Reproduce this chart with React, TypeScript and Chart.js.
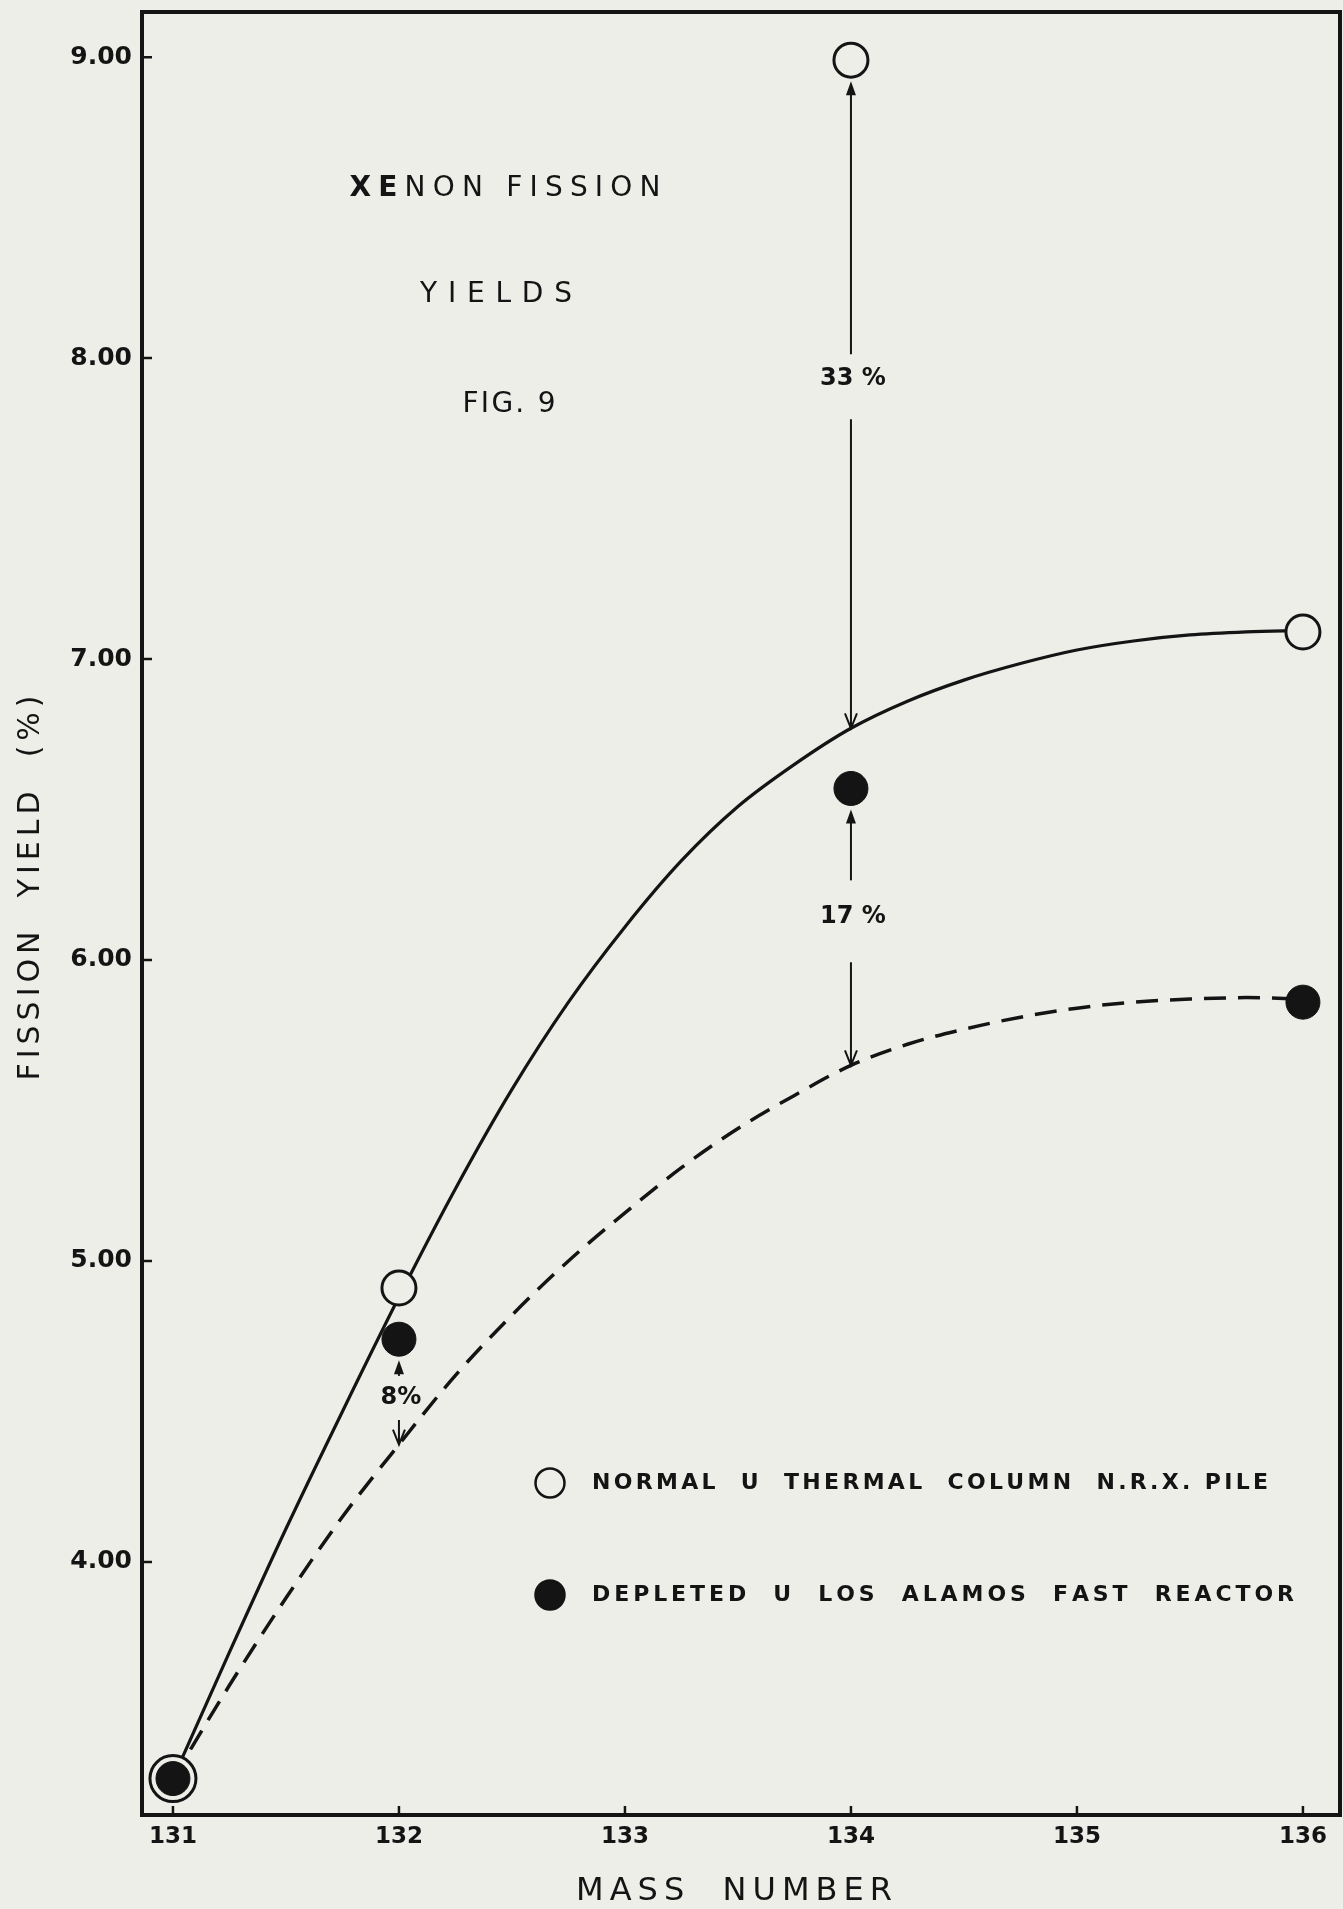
import React, { useEffect, useRef } from 'react';
import { Chart, registerables } from 'chart.js';

Chart.register(...registerables);

// ---------- data ----------
const MASS_NUMBERS = [131, 132, 134, 136];
const NORMAL_U_YIELDS = [3.28, 4.91, 8.99, 7.09];
const DEPLETED_U_YIELDS = [3.28, 4.74, 6.57, 5.86];

const CURVE_MASS = [131, 131.25, 131.5, 131.75, 132, 132.25, 132.5, 132.75, 133, 133.25, 133.5, 133.75, 134, 134.25, 134.5, 134.75, 135, 135.25, 135.5, 135.75, 136];
const NORMAL_CURVE = [3.28, 3.7, 4.11, 4.5, 4.88, 5.24, 5.57, 5.86, 6.11, 6.33, 6.51, 6.65, 6.77, 6.86, 6.93, 6.985, 7.03, 7.06, 7.08, 7.09, 7.095];
const DEPLETED_CURVE = [3.28, 3.59, 3.88, 4.15, 4.39, 4.62, 4.82, 5.0, 5.16, 5.31, 5.44, 5.55, 5.65, 5.72, 5.77, 5.81, 5.84, 5.86, 5.87, 5.875, 5.87];

const X_TICKS = [131, 132, 133, 134, 135, 136];
const Y_TICKS = [4, 5, 6, 7, 8, 9];

const NORMAL_LABEL = 'NORMAL  U  THERMAL  COLUMN  N.R.X. PILE';
const DEPLETED_LABEL = 'DEPLETED  U  LOS  ALAMOS  FAST  REACTOR';
const X_TITLE = 'MASS  NUMBER';
const Y_TITLE = 'FISSION  YIELD  (%)';

// percentage-difference annotations
const DIFF_MASS = [134, 134, 132];
const DIFF_LABELS = ['33 %', '17 %', '8%'];
const DIFF_LABEL_AT = [7.93, 6.145, 4.545];
const DIFF_TOP = [NORMAL_U_YIELDS[2], DEPLETED_U_YIELDS[2], DEPLETED_U_YIELDS[1]];
const DIFF_BOTTOM = [
  NORMAL_CURVE[CURVE_MASS.indexOf(134)],
  DEPLETED_CURVE[CURVE_MASS.indexOf(134)],
  DEPLETED_CURVE[CURVE_MASS.indexOf(132)],
];

// ---------- styles ----------
const W = 1343;
const H = 1909;
const PAPER = '#eeeee9';
const INK = '#141414';
const FAMILY = '"DejaVu Sans", "Liberation Sans", sans-serif';

function spacedText(ctx: CanvasRenderingContext2D, segments: [string, string][], x: number, y: number, width: number, align: 'center' | 'left') {
  const chars: [string, string][] = [];
  for (const [t, f] of segments) for (const ch of t) chars.push([ch, f]);
  let sum = 0;
  const ws = chars.map(([ch, f]) => { ctx.font = f; const w = ctx.measureText(ch).width; sum += w; return w; });
  const gap = chars.length > 1 ? (width - sum) / (chars.length - 1) : 0;
  let cx = align === 'center' ? x - width / 2 : x;
  ctx.textBaseline = 'middle';
  ctx.textAlign = 'left';
  chars.forEach(([ch, f], i) => { ctx.font = f; ctx.fillText(ch, cx, y); cx += ws[i] + gap; });
}

const decorPlugin = {
  id: 'decor',
  beforeDraw(chart: any) {
    const ctx = chart.ctx;
    ctx.save();
    ctx.fillStyle = PAPER;
    ctx.fillRect(0, 0, chart.width, chart.height);
    ctx.restore();
    const spacing: Record<string, string> = { x: '6px', y: '5px' };
    const shift: Record<string, [number, number]> = { x: [-4, 0], y: [0, -28] };
    for (const id of ['x', 'y']) {
      const s: any = chart.scales[id];
      if (s && !s.__spaced) {
        const orig = s.drawTitle.bind(s);
        s.drawTitle = (...args: any[]) => {
          const c: any = chart.ctx;
          c.save();
          if ('letterSpacing' in c) c.letterSpacing = spacing[id];
          c.translate(shift[id][0], shift[id][1]);
          orig(...args);
          c.restore();
        };
        s.__spaced = true;
      }
    }
  },
  afterDatasetsDraw(chart: any) {
    const ctx: CanvasRenderingContext2D = chart.ctx;
    const xs = chart.scales.x;
    const ys = chart.scales.y;
    ctx.save();
    ctx.strokeStyle = INK;
    ctx.fillStyle = INK;
    ctx.lineWidth = 2;
    const gapsTop = [25, 36, 22];
    const gapsBottom = [40, 46, 22];
    for (let i = 0; i < DIFF_MASS.length; i++) {
      const x = xs.getPixelForValue(DIFF_MASS[i]);
      const yTop = ys.getPixelForValue(DIFF_TOP[i]) + 21;
      const yBot = ys.getPixelForValue(DIFF_BOTTOM[i]);
      const yL = ys.getPixelForValue(DIFF_LABEL_AT[i]);
      ctx.beginPath();
      ctx.moveTo(x, yL - gapsTop[i]);
      ctx.lineTo(x, yTop + 8);
      ctx.stroke();
      ctx.beginPath();
      ctx.moveTo(x, yTop);
      ctx.lineTo(x - 5, yTop + 14);
      ctx.lineTo(x + 5, yTop + 14);
      ctx.closePath();
      ctx.fill();
      ctx.beginPath();
      ctx.moveTo(x, yL + gapsBottom[i]);
      ctx.lineTo(x, yBot);
      ctx.moveTo(x - 6, yBot - 15);
      ctx.lineTo(x, yBot);
      ctx.lineTo(x + 6, yBot - 15);
      ctx.stroke();
      ctx.font = `bold 24px ${FAMILY}`;
      ctx.textAlign = 'center';
      ctx.textBaseline = 'middle';
      ctx.fillText(DIFF_LABELS[i], x + 2, yL);
    }
    ctx.restore();
  },
  afterDraw(chart: any) {
    const ctx: CanvasRenderingContext2D = chart.ctx;
    const { left, right, top, bottom } = chart.chartArea;
    const xs = chart.scales.x;
    const ys = chart.scales.y;
    ctx.save();
    ctx.strokeStyle = INK;
    ctx.fillStyle = INK;
    ctx.lineWidth = 4;
    ctx.lineCap = 'square';
    ctx.beginPath();
    ctx.moveTo(left, top);
    ctx.lineTo(right, top);
    ctx.lineTo(right, bottom);
    ctx.stroke();
    ctx.lineWidth = 2.5;
    ctx.lineCap = 'butt';
    ctx.beginPath();
    for (const v of Y_TICKS) {
      const y = ys.getPixelForValue(v);
      ctx.moveTo(left, y);
      ctx.lineTo(left + 10, y);
    }
    for (const v of X_TICKS) {
      const x = xs.getPixelForValue(v);
      ctx.moveTo(x, bottom);
      ctx.lineTo(x, bottom - 9);
    }
    ctx.stroke();

    const reg = `28px ${FAMILY}`;
    const bold = `bold 28px ${FAMILY}`;
    spacedText(ctx, [['XE', bold], ['NON FISSION', reg]], left + 363, top + 177, 311, 'center');
    spacedText(ctx, [['YIELDS', reg]], left + 354, top + 283, 152, 'center');
    spacedText(ctx, [['FIG. 9', reg]], left + 367, top + 393, 93, 'center');

    const ds = chart.data.datasets;
    const legendRows = [
      { d: ds[1], y: top + 1471, w: 676 },
      { d: ds[0], y: top + 1583, w: 702 },
    ];
    for (const row of legendRows) {
      const cx = left + 408;
      ctx.beginPath();
      ctx.arc(cx, row.y, 14.5, 0, Math.PI * 2);
      ctx.fillStyle = row.d.pointBackgroundColor;
      ctx.fill();
      ctx.lineWidth = 2.5;
      ctx.strokeStyle = INK;
      ctx.stroke();
      ctx.fillStyle = INK;
      spacedText(ctx, [[row.d.label, `bold 22px ${FAMILY}`]], left + 450, row.y, row.w, 'left');
    }
    ctx.restore();
  },
};

export default function App() {
  const ref = useRef<HTMLCanvasElement>(null);
  useEffect(() => {
    document.body.style.margin = '0';
    document.body.style.background = PAPER;
    const canvas = ref.current!;
    const chart = new Chart(canvas, {
      type: 'scatter',
      data: {
        datasets: [
          {
            label: DEPLETED_LABEL,
            data: MASS_NUMBERS.map((m, i) => ({ x: m, y: DEPLETED_U_YIELDS[i] })),
            showLine: false,
            pointRadius: 17,
            pointHoverRadius: 17,
            pointBackgroundColor: INK,
            pointBorderColor: INK,
            pointBorderWidth: 1,
          },
          {
            label: NORMAL_LABEL,
            data: MASS_NUMBERS.map((m, i) => ({ x: m, y: NORMAL_U_YIELDS[i] })),
            showLine: false,
            pointRadius: [23, 17, 17, 17],
            pointHoverRadius: [23, 17, 17, 17],
            pointBackgroundColor: PAPER,
            pointBorderColor: INK,
            pointBorderWidth: 3,
          },
          {
            label: 'Normal U curve',
            data: CURVE_MASS.map((m, i) => ({ x: m, y: NORMAL_CURVE[i] })),
            showLine: true,
            borderColor: INK,
            borderWidth: 3.2,
            pointRadius: 0,
            cubicInterpolationMode: 'monotone',
            fill: false,
          },
          {
            label: 'Depleted U curve',
            data: CURVE_MASS.map((m, i) => ({ x: m, y: DEPLETED_CURVE[i] })),
            showLine: true,
            borderColor: INK,
            borderWidth: 3.5,
            borderDash: [22, 12],
            pointRadius: 0,
            cubicInterpolationMode: 'monotone',
            fill: false,
          },
        ],
      },
      options: {
        responsive: false,
        animation: false,
        devicePixelRatio: 1,
        layout: { autoPadding: false, padding: { top: 12, right: 3, bottom: 0, left: 0 } },
        plugins: { legend: { display: false }, tooltip: { enabled: false } },
        events: [],
        scales: {
          x: {
            type: 'linear',
            position: 'bottom',
            min: 130.863,
            max: 136.164,
            afterBuildTicks: (s: any) => { s.ticks = X_TICKS.map((v) => ({ value: v })); },
            afterFit: (s: any) => { s.height = 94; s.paddingLeft = 0; s.paddingRight = 0; },
            grid: { display: false, drawTicks: false },
            border: { display: true, color: INK, width: 4 },
            ticks: { color: INK, font: { family: FAMILY, size: 23, weight: 'bold' }, padding: 8, maxRotation: 0, autoSkip: false, callback: (v: any) => String(v) },
            title: { display: true, text: X_TITLE, color: INK, font: { family: FAMILY, size: 32, lineHeight: 1.1 }, padding: { top: 0, bottom: 0 } },
          },
          y: {
            type: 'linear',
            position: 'left',
            min: 3.159,
            max: 9.15,
            afterBuildTicks: (s: any) => { s.ticks = Y_TICKS.map((v) => ({ value: v })); },
            afterFit: (s: any) => { s.width = 142; s.paddingTop = 0; s.paddingBottom = 0; },
            grid: { display: false, drawTicks: false },
            border: { display: true, color: INK, width: 4 },
            ticks: { color: INK, font: { family: FAMILY, size: 25, weight: 'bold' }, padding: 10, autoSkip: false, callback: (v: any) => Number(v).toFixed(2) },
            title: { display: true, text: Y_TITLE, color: INK, font: { family: FAMILY, size: 30, lineHeight: 1.2 }, padding: { top: 13, bottom: 0 } },
          },
        },
      },
      plugins: [decorPlugin],
    } as any);
    return () => chart.destroy();
  }, []);
  return (
    <div style={{ width: W, height: H, background: PAPER }}>
      <canvas ref={ref} width={W} height={H} style={{ display: 'block', width: W, height: H }} />
    </div>
  );
}
